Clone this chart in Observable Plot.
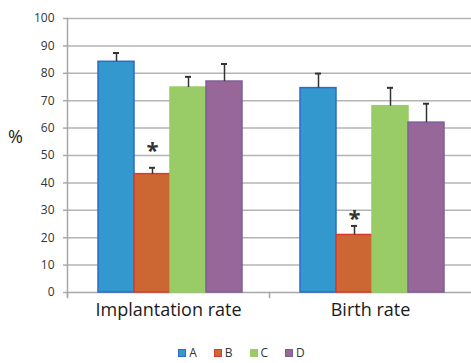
<!DOCTYPE html>
<html>
<head>
<meta charset="utf-8">
<script src="https://cdn.jsdelivr.net/npm/d3@7"></script>
<script src="https://cdn.jsdelivr.net/npm/@observablehq/plot@0.6"></script>
<style>
  body { margin: 0; background: #fff; font-family: "Open Sans", "Noto Sans", sans-serif; }
  #wrap { position: relative; width: 471px; height: 363px; }
  #ylab { position: absolute; left: 8px; top: 124px; font-size: 18px; color: #222; }
  #legend { position: absolute; left: 0; top: 344px; width: 471px; display: flex; justify-content: center; gap: 17px; font-size: 12px; color: #333; padding-left: 12px; box-sizing: border-box; }
  .li { display: flex; align-items: center; gap: 3px; }
  .sw { width: 6px; height: 6px; border: 1px solid; }
</style>
</head>
<body>
<div id="wrap">
  <div id="chart"></div>
  <div id="ylab">%</div>
  <div id="legend"></div>
</div>
<script>
const groups = ["Implantation rate", "Birth rate"];
const seriesNames = ["A", "B", "C", "D"];
const implantation = [84.2, 43.2, 74.8, 77.0];
const implantationErr = [87.4, 45.5, 78.7, 83.4];
const birth = [74.6, 21.0, 68.0, 62.0];
const birthErr = [79.9, 24.3, 74.7, 68.9];
const sigSeries = ["B", "B"];
const sigGroups = ["Implantation rate", "Birth rate"];
const sigY = [53.5, 28.8];
const yTicks = [0, 10, 20, 30, 40, 50, 60, 70, 80, 90, 100];

const fills = ["#3398cd", "#cc6633", "#99cb66", "#976799"];
const strokes = ["#3069c8", "#d93a2e", "#99cb66", "#7d5f98"];

const rows = [];
groups.forEach((g, gi) => {
  const vals = gi === 0 ? implantation : birth;
  const errs = gi === 0 ? implantationErr : birthErr;
  seriesNames.forEach((s, si) => rows.push({group: g, series: s, value: vals[si], err: errs[si]}));
});
const sig = sigY.map((y, i) => ({group: sigGroups[i], series: sigSeries[i], y}));

const chart = Plot.plot({
  width: 471,
  height: 340,
  marginLeft: 66,
  marginRight: 0,
  marginTop: 18,
  marginBottom: 48,
  style: {fontFamily: "'Open Sans', 'Noto Sans', sans-serif", background: "#fff"},
  fx: {domain: groups, padding: 0, label: null, axis: null},
  x: {domain: seriesNames, paddingInner: 0, paddingOuter: 0.755, align: 0.54, axis: null},
  y: {domain: [0, 100], axis: null},
  color: {domain: seriesNames, range: fills},
  marks: [
    Plot.ruleY(yTicks.filter(d => d > 0), {stroke: "#b4b4b4", strokeWidth: 1.5}),
    Plot.ruleY([0], {stroke: "#a8a8a8", strokeWidth: 1.5}),
    Plot.frame({anchor: "left", facetAnchor: "left", stroke: "#a8a8a8", strokeWidth: 1.5, insetBottom: -4}),
    Plot.frame({anchor: "left", stroke: "#a8a8a8", strokeWidth: 1.5, insetTop: 274, insetBottom: -5}),
    Plot.axisY({ticks: yTicks, tickSize: 4, tickPadding: 9, fontSize: 12, color: "#333", stroke: "#a8a8a8", strokeWidth: 1.5, label: null, facetAnchor: "left"}),
    Plot.axisFx({anchor: "bottom", tickSize: 0, tickPadding: 11, fontSize: 18, color: "#1a1a1a", label: null}),
    Plot.barY(rows, {fx: "group", x: "series", y: "value", fill: "series", stroke: d => strokes[seriesNames.indexOf(d.series)], strokeWidth: 1.5}),
    Plot.ruleX(rows, {fx: "group", x: "series", y1: "value", y2: "err", stroke: "#333", strokeWidth: 1.5}),
    Plot.tickY(rows, {fx: "group", x: "series", y: "err", stroke: "#333", strokeWidth: 2, insetLeft: 15, insetRight: 15}),
    Plot.text(sig, {fx: "group", x: "series", y: "y", text: () => "*", fontSize: 22, fontWeight: "bold", fill: "#333", lineAnchor: "middle", dy: 5})
  ]
});
document.getElementById("chart").appendChild(chart);

const legend = document.getElementById("legend");
seriesNames.forEach((s, i) => {
  const it = document.createElement("div");
  it.className = "li";
  const sw = document.createElement("span");
  sw.className = "sw";
  sw.style.background = fills[i];
  sw.style.borderColor = strokes[i];
  const t = document.createElement("span");
  t.textContent = s;
  it.appendChild(sw); it.appendChild(t);
  legend.appendChild(it);
});
</script>
</body>
</html>
